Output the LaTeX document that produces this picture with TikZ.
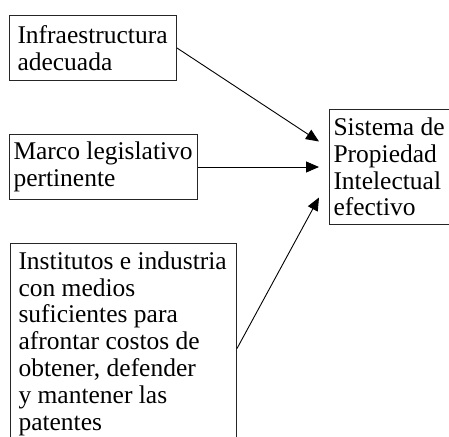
\documentclass[tikz,border=0pt]{standalone}
\usepackage{fontspec}
\setmainfont{Liberation Serif}
\usetikzlibrary{arrows.meta}

\begin{document}
\begin{tikzpicture}[x=1pt, y=-1pt,
	caja/.style={draw=black!85, line width=1pt, anchor=north west, align=flush left,
		inner xsep=8pt, inner ysep=0pt, font=\fontsize{25.5}{26.8}\selectfont},
	flecha/.style={line width=0.9pt, -{Triangle[length=13pt, width=11pt]}}]

	% area
	\clip (0, 0) rectangle (449, 436);

	% causes
	\node[caja, text width=151pt, minimum height=65pt] (infra) at (9, 15) {Infraestructura\\adecuada};
	\node[caja, inner xsep=4pt, text width=180pt, minimum height=65pt] (marco) at (9, 134) {Marco legislativo\\pertinente};
	\node[caja, text width=210pt, minimum height=200pt] (inst) at (10, 243) {Institutos e industria\\con medios\\suficientes para\\afrontar costos de\\obtener, defender\\y mantener las\\patentes};

	% result
	\node[caja, inner xsep=4pt, text width=130pt, minimum height=115pt] (sis) at (329, 109) {Sistema de\\Propiedad\\Intelectual\\efectivo};

	% arrows
	\draw[flecha] (infra.east) -- ([xshift=-10pt, yshift=25.5pt]sis.west);
	\draw[flecha] (marco.east) -- ([xshift=-10pt]sis.west);
	\draw[flecha] ([yshift=-5pt]inst.east) -- ([xshift=-10pt, yshift=-30.5pt]sis.west);
\end{tikzpicture}
\end{document}
